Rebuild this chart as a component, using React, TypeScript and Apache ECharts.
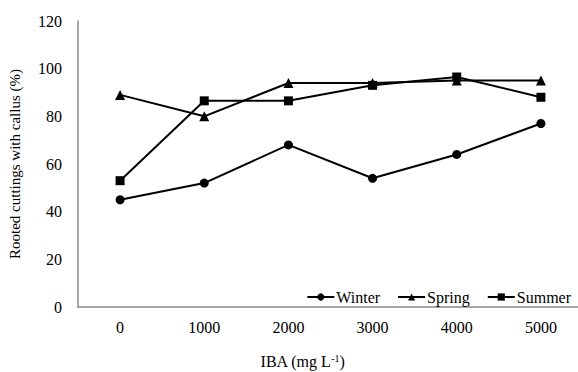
import React, { useEffect, useRef } from "react";
import * as echarts from "echarts";

const categories = ["0", "1000", "2000", "3000", "4000", "5000"];
const winter = [45, 52, 68, 54, 64, 77];
const spring = [89, 80, 94, 94, 95, 95];
const summer = [53, 86.5, 86.5, 93, 96.5, 88];
const yTicks = { min: 0, max: 120, interval: 20 };

const FONT = "'Liberation Serif', 'Times New Roman', serif";

export default function App() {
  const ref = useRef<HTMLDivElement>(null);
  useEffect(() => {
    if (!ref.current) return;
    const chart = echarts.init(ref.current, undefined, { renderer: "svg" });
    const mk = (name: string, data: number[], symbol: string, size: number) => ({
      name,
      type: "line",
      data,
      symbol,
      symbolSize: size,
      itemStyle: { color: "#000" },
      lineStyle: { color: "#000", width: 2 },
    });
    chart.setOption({
      animation: false,
      textStyle: { fontFamily: FONT },
      grid: { left: 78, top: 21, width: 505, height: 286, outerBoundsMode: "none", containLabel: false },
      legend: {
        right: 2,
        top: 284,
        itemWidth: 27,
        itemHeight: 9,
        itemGap: 17,
        textStyle: { fontFamily: FONT, fontSize: 16, color: "#000", padding: [0, 0, 0, -3] },
        data: ["Winter", "Spring", "Summer"],
      },
      xAxis: {
        type: "category",
        data: categories,
        boundaryGap: true,
        axisLine: { lineStyle: { color: "#888", width: 1.5 } },
        axisTick: { show: false },
        axisLabel: { fontFamily: FONT, fontSize: 16, color: "#000", margin: 12 },
        name: "{a|IBA (mg L}{s|-1}{a|)}",
        nameLocation: "middle",
        nameGap: 46,
        nameTextStyle: {
          padding: [0, 56, 0, 0],
          rich: {
            a: { fontFamily: FONT, fontSize: 16, color: "#000" },
            s: { fontFamily: FONT, fontSize: 10, color: "#000", verticalAlign: "top", padding: [0, 0, 6, 0] },
          },
        },
      },
      yAxis: {
        type: "value",
        min: yTicks.min,
        max: yTicks.max,
        interval: yTicks.interval,
        splitLine: { show: false },
        axisLine: { show: true, lineStyle: { color: "#888", width: 1.5 } },
        axisTick: { show: false },
        axisLabel: { fontFamily: FONT, fontSize: 16, color: "#000", margin: 16 },
        name: "Rooted cuttings with callus (%)",
        nameLocation: "middle",
        nameGap: 56,
        nameTextStyle: { fontFamily: FONT, fontSize: 15, color: "#000" },
      },
      series: [
        mk("Winter", winter, "circle", 9),
        mk("Spring", spring, "triangle", 10),
        mk("Summer", summer, "rect", 9),
      ],
    });
    return () => chart.dispose();
  }, []);
  return <div ref={ref} style={{ position: "absolute", left: 0, top: 0, width: 578, height: 372 }} />;
}
